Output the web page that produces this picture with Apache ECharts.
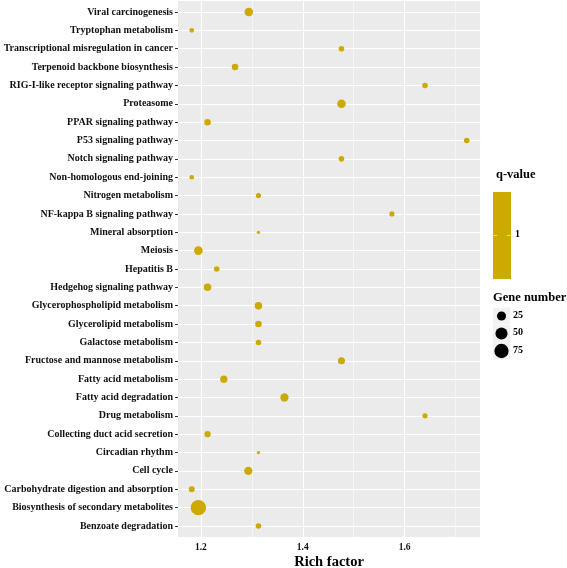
<!DOCTYPE html>
<html>
<head>
<meta charset="utf-8">
<script src="https://cdn.jsdelivr.net/npm/echarts@6/dist/echarts.min.js"></script>
<style>
html,body{margin:0;padding:0;background:#fff;}
#c{width:567px;height:568px;}
</style>
</head>
<body>
<div id="c"></div>
<script>
// Categories, bottom to top
const categories = [
  "Benzoate degradation",
  "Biosynthesis of secondary metabolites",
  "Carbohydrate digestion and absorption",
  "Cell cycle",
  "Circadian rhythm",
  "Collecting duct acid secretion",
  "Drug metabolism",
  "Fatty acid degradation",
  "Fatty acid metabolism",
  "Fructose and mannose metabolism",
  "Galactose metabolism",
  "Glycerolipid metabolism",
  "Glycerophospholipid metabolism",
  "Hedgehog signaling pathway",
  "Hepatitis B",
  "Meiosis",
  "Mineral absorption",
  "NF-kappa B signaling pathway",
  "Nitrogen metabolism",
  "Non-homologous end-joining",
  "Notch signaling pathway",
  "P53 signaling pathway",
  "PPAR signaling pathway",
  "Proteasome",
  "RIG-I-like receptor signaling pathway",
  "Terpenoid backbone biosynthesis",
  "Transcriptional misregulation in cancer",
  "Tryptophan metabolism",
  "Viral carcinogenesis"
];
const richFactor = [
  1.313, 1.195, 1.182, 1.293, 1.313, 1.213, 1.640, 1.364, 1.245, 1.476,
  1.313, 1.313, 1.313, 1.213, 1.231, 1.195, 1.313, 1.575, 1.313, 1.182,
  1.476, 1.722, 1.213, 1.476, 1.640, 1.267, 1.476, 1.182, 1.294
];
const geneNumber = [
  9, 88, 10, 20, 6, 11, 8, 20, 15, 14,
  9, 12, 16, 16, 9, 22, 6, 8, 8, 7,
  9, 9, 12, 22, 9, 12, 9, 7, 22
];
const qValue = [1];
const xTicks = [1.2, 1.4, 1.6];
const xMinorTicks = [1.3, 1.5, 1.7];
const sizeLegend = [25, 50, 75];

const gMin = Math.min(...geneNumber), gMax = Math.max(...geneNumber);
function sizeOf(n) {
  const t = Math.max(0, (n - gMin) / (gMax - gMin));
  return 3.3 + 12 * Math.sqrt(t);
}

const FONT = "'Liberation Serif', 'DejaVu Serif', serif";
const DOT = '#CCAA00';
const yIdx = categories.map((_, i) => i);

const chart = echarts.init(document.getElementById('c'), null, {renderer: 'canvas'});

const legX = 493, legY0 = 316, legStep = 17.5;
const graphics = [
  {type:'text', left: 496, top: 168, style:{text:'q-value', font:"bold 12.5px " + FONT, fill:'#000'}},
  {type:'rect', shape:{x:493, y:192, width:18, height:87}, style:{fill:DOT}},
  {type:'line', shape:{x1:493, y1:235.5, x2:497, y2:235.5}, style:{stroke:'#fff', lineWidth:0.8, opacity:0.7}},
  {type:'line', shape:{x1:507, y1:235.5, x2:511, y2:235.5}, style:{stroke:'#fff', lineWidth:0.8, opacity:0.7}},
  {type:'text', left: 515, top: 229, style:{text: String(qValue[0]), font:"bold 10px " + FONT, fill:'#000'}},
  {type:'text', left: 493, top: 291, style:{text:'Gene number', font:"bold 12.5px " + FONT, fill:'#000'}}
];
sizeLegend.forEach((v, k) => {
  const cy = legY0 + k * legStep;
  graphics.push({type:'rect', shape:{x:legX, y:cy-8.5, width:17, height:17}, style:{fill:'#F2F2F2'}});
  graphics.push({type:'circle', shape:{cx:legX+8.5, cy:cy, r:sizeOf(v)/2}, style:{fill:'#000'}});
  graphics.push({type:'text', left: 513, top: cy-6, style:{text:String(v), font:"bold 10px " + FONT, fill:'#000'}});
});

const option = {
  animation: false,
  grid: {left:178, right:87, top:1, bottom:31, show:true, backgroundColor:'#EBEBEB', borderWidth:0,
    containLabel:false, outerBoundsMode:'none'},
  xAxis: {
    type:'value', min:1.155, max:1.748,
    name:'Rich factor', nameLocation:'middle', nameGap:18, nameMoveOverlap:false,
    nameTextStyle:{fontFamily:FONT, fontWeight:'bold', fontSize:14.5, color:'#000', verticalAlign:'top'},
    axisLine:{show:false},
    axisTick:{show:true, length:3, customValues:xTicks, lineStyle:{color:'#333', width:1}},
    axisLabel:{customValues:xTicks, fontFamily:FONT, fontWeight:'bold', fontSize:9.5, color:'#111', margin:6,
      formatter: v => v.toFixed(1)},
    splitLine:{show:false}
  },
  yAxis: {
    type:'value', min:-0.6, max:categories.length - 0.4,
    axisLine:{show:false},
    axisTick:{show:true, length:3, customValues:yIdx, lineStyle:{color:'#333', width:1}},
    axisLabel:{customValues:yIdx, fontFamily:FONT, fontWeight:'bold', fontSize:10, color:'#111', margin:5,
      formatter: v => categories[Math.round(v)]},
    splitLine:{show:false}
  },
  graphic: graphics,
  series: [
    {
      type:'scatter', data:[], z:1, silent:true,
      markLine:{
        silent:true, symbol:'none', z:1, animation:false,
        label:{show:false},
        emphasis:{disabled:true},
        data: [
          ...xMinorTicks.map(v => ({xAxis:v, lineStyle:{color:'#fff', width:0.5, type:'solid'}})),
          ...xTicks.map(v => ({xAxis:v, lineStyle:{color:'#fff', width:1.1, type:'solid'}})),
          ...yIdx.map(v => ({yAxis:v, lineStyle:{color:'#fff', width:1.1, type:'solid'}}))
        ]
      }
    },
    {
      type:'scatter', z:3,
      data: richFactor.map((r, i) => [r, i, geneNumber[i]]),
      symbolSize: d => sizeOf(d[2]),
      itemStyle:{color:DOT, opacity:1}
    }
  ]
};
chart.setOption(option);
</script>
</body>
</html>
